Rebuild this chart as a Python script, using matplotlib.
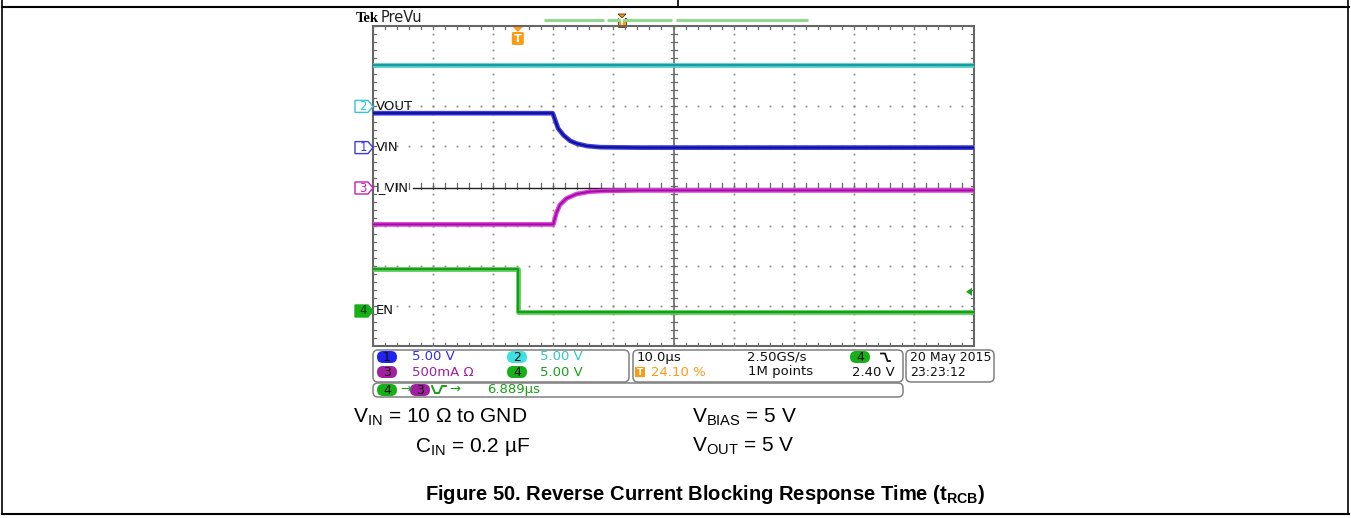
import numpy as np
import matplotlib
matplotlib.use("Agg")
import matplotlib.pyplot as plt
from matplotlib.patches import Polygon, FancyBboxPatch, Rectangle

plt.rcParams['mathtext.fontset'] = 'custom'
plt.rcParams['mathtext.rm'] = 'Liberation Sans'
plt.rcParams['mathtext.bf'] = 'Liberation Sans:bold'

W, H = 1351, 518

# scope settings
time_per_div = 10.0      # us/div
trig_pct = 24.10         # trigger position, % of screen
volts_per_div = 5.0      # ch1, ch2, ch4
ma_per_div = 500.0       # ch3
trig_level = 2.40        # V on ch4

# ground markers of each channel, in divisions from screen centre
ch_offset = {1: 0.96, 2: 1.99, 3: -0.05, 4: -3.125}

# channel 2 - VOUT
vout_t = [-24.1, 75.9]
vout_v = [5.2, 5.2]

# channel 1 - VIN
vin_t = [-24.1, 5.8, 6.2, 6.7, 7.6, 8.7, 9.8, 11.5, 13.7, 20.3, 75.9]
vin_v = [4.3, 4.3, 3.45, 2.4, 1.55, 0.85, 0.5, 0.2, 0.05, 0.0, 0.0]

# channel 3 - I_VIN (mA)
iin_t = [-24.1, 5.9, 6.4, 7.0, 8.1, 9.8, 12.0, 14.8, 20.0, 75.9]
iin_ma = [-455, -455, -315, -210, -130, -75, -45, -35, -30, -30]

# channel 4 - EN
en_t = [-24.1, 0.0, 0.0, 75.9]
en_v = [5.25, 5.25, -0.1, -0.1]

trig_div = trig_pct / 10.0


def tx(t):
    return np.asarray(t, dtype=float) / time_per_div + trig_div


def vy(v, ch, scale):
    return np.asarray(v, dtype=float) / scale + ch_offset[ch]


fig = plt.figure(figsize=(W / 100, H / 100), dpi=100)

# page axes in pixel units
pg = fig.add_axes([0, 0, 1, 1])
pg.set_xlim(0, W)
pg.set_ylim(H, 0)
pg.axis('off')

# screen axes in divisions
L, R, T, B = 373, 974, 26, 346
ax = fig.add_axes([L / W, 1 - B / H, (R - L) / W, (B - T) / H])
ax.set_xlim(0, 10)
ax.set_ylim(-4, 4)
ax.axis('off')
ax.patch.set_alpha(0)
px_x = (R - L) / 10.0
px_y = (B - T) / 8.0

# document frame
pg.plot([2, 1349], [7, 7], color='black', lw=1.5)
pg.plot([2, 1349], [514, 514], color='black', lw=1.5)
pg.plot([2, 2], [0, 514], color='black', lw=1.2)
pg.plot([1348, 1348], [0, 514], color='black', lw=1.2)
pg.plot([678, 678], [0, 7], color='black', lw=1.2)

# graticule
grid_c = '#8a8a8a'
steps_x = np.arange(0, 10.001, 0.2)
steps_y = np.arange(-4, 4.001, 0.2)
for k in range(1, 10):
    if k == 5:
        continue
    ax.plot(np.full_like(steps_y, k), steps_y, ls='none', marker='s', ms=1.3,
            mec='none', mfc=grid_c)
for j in range(-3, 4):
    if j == 0:
        continue
    ax.plot(steps_x, np.full_like(steps_x, j), ls='none', marker='s', ms=1.3,
            mec='none', mfc=grid_c)

# centre crosshair with minor ticks
ax.plot([5, 5], [-4, 4], color='#6a6a6a', lw=1.2)
for yy in steps_y:
    ax.plot([5 - 3 / px_x, 5 + 3 / px_x], [yy, yy], color='#6a6a6a', lw=0.9)
for xx in steps_x:
    ax.plot([xx, xx], [-3 / px_y, 3 / px_y], color='#6a6a6a', lw=0.9)

# border with ticks
ax.add_patch(Rectangle((0, -4), 10, 8, fill=False, ec='#666666', lw=1.5, clip_on=False))
for xx in steps_x:
    ax.plot([xx, xx], [4, 4 - 3 / px_y], color='#6a6a6a', lw=0.9)
    ax.plot([xx, xx], [-4, -4 + 3 / px_y], color='#6a6a6a', lw=0.9)
for yy in steps_y:
    ax.plot([10, 10 - 3 / px_x], [yy, yy], color='#6a6a6a', lw=0.9)
    ax.plot([0, 3 / px_x], [yy, yy], color='#6a6a6a', lw=0.9)

# ch3 reference line
ax.plot([40 / px_x, 10], [ch_offset[3]] * 2, color='#222222', lw=1.0)

# traces: light band under a darker core
traces = [
    (tx(vout_t), vy(vout_v, 2, volts_per_div), '#52c8c8', '#139c9c'),
    (tx(vin_t), vy(vin_v, 1, volts_per_div), '#3c3ce0', '#0e0e98'),
    (tx(iin_t), vy(iin_ma, 3, ma_per_div), '#e040e0', '#a010a0'),
    (tx(en_t), vy(en_v, 4, volts_per_div), '#50cc50', '#1a9a1a'),
]
for xs, ys, light, dark in traces:
    ax.plot(xs, ys, color=light, lw=3.4, solid_joinstyle='round')
    ax.plot(xs, ys, color=dark, lw=1.4, solid_joinstyle='round')

# channel markers on the left edge
markers = [
    (2, 'VOUT', '#2ec8d8', False),
    (1, 'VIN', '#3a3ae8', False),
    (3, 'I_VIN', '#c020c0', False),
    (4, 'EN', '#18b018', True),
]
mw, mh = 17 / px_x, 6 / px_y
for ch, name, col, filled in markers:
    y0 = ch_offset[ch]
    pts = [(-mw - 1 / px_x, y0 + mh), (-5 / px_x, y0 + mh), (0, y0),
           (-5 / px_x, y0 - mh), (-mw - 1 / px_x, y0 - mh)]
    ax.add_patch(Polygon(pts, closed=True, fc=col if filled else 'white',
                         ec=col, lw=1.0, clip_on=False, zorder=5))
    ax.text(-10 / px_x, y0, str(ch), color='#0a3a0a' if filled else col,
            fontsize=8.5, ha='center', va='center', family='DejaVu Sans',
            clip_on=False, zorder=6)
    ax.text(3 / px_x, y0, name, color='#111111', fontsize=9.5,
            ha='left', va='center', family='DejaVu Sans', zorder=6)

# trigger level arrow (ch4) on the right edge
ty = ch_offset[4] + trig_level / volts_per_div
ax.add_patch(Polygon([(10 - 2 / px_x, ty + 4 / px_y), (10 - 2 / px_x, ty - 4 / px_y),
                      (10 - 8 / px_x, ty)], closed=True, fc='#18a018', ec='none'))

# trigger position marker on the top edge
orange = '#ff9a14'
tx0 = trig_div
ax.add_patch(Polygon([(tx0 - 5 / px_x, 4 - 1 / px_y), (tx0 + 5 / px_x, 4 - 1 / px_y),
                      (tx0, 4 - 6 / px_y)], closed=True, fc=orange, ec='none', zorder=6))
ax.add_patch(FancyBboxPatch((tx0 - 6 / px_x, 4 - 19 / px_y), 12 / px_x, 13 / px_y,
                            boxstyle='round,pad=0,rounding_size=0.03', fc=orange,
                            ec='none', zorder=6, clip_on=False))
ax.text(tx0, 4 - 12.5 / px_y, 'T', color='white', fontsize=8, fontweight='bold',
        ha='center', va='center', family='DejaVu Sans', zorder=7)

# header: Tek PreVu and record view bar
pg.text(356, 19, 'Tek', fontsize=10.5, fontweight='bold', family='Liberation Serif',
        ha='left', va='center', color='black')
pg.text(381, 18, 'PreVu', fontsize=10.5, family='DejaVu Sans', ha='left', va='center',
        color='#222222')
for x0, x1 in [(544, 604), (607, 672), (676, 808)]:
    pg.plot([x0, x1], [20, 20], color='#90d890', lw=2.2, solid_capstyle='butt')
pg.add_patch(Polygon([(618, 14), (626, 14), (622, 18)], closed=True, fc=orange, ec='#553300', lw=0.6))
pg.add_patch(Rectangle((618, 18), 8, 9, fc=orange, ec='#553300', lw=0.6))
pg.text(622, 22.5, 'T', color='white', fontsize=6, fontweight='bold', ha='center',
        va='center', family='DejaVu Sans')


# readout area
def box(x0, y0, x1, y1):
    pg.add_patch(FancyBboxPatch((x0, y0), x1 - x0, y1 - y0,
                                boxstyle='round,pad=0,rounding_size=5',
                                fc='white', ec='#808080', lw=1.1))


def pill(x, y, num, fc):
    pg.add_patch(FancyBboxPatch((x - 10, y - 6), 20, 12,
                                boxstyle='round,pad=0,rounding_size=6',
                                fc=fc, ec='none'))
    pg.text(x, y + 0.5, num, fontsize=9, ha='center', va='center',
            color='#101010', family='DejaVu Sans')


def rd(x, y, s, col='#111111', ha='left', size=9.5):
    pg.text(x, y, s, fontsize=size, ha=ha, va='center', color=col, family='DejaVu Sans')


blue_t, cyan_t, purp_t, green_t = '#3030e0', '#30c8c8', '#a020a0', '#18a018'
box(373, 350, 629, 382)
box(633, 350, 903, 382)
box(906, 350, 994, 382)
box(373, 383, 903, 397)

r1, r2, r3 = 357, 372, 390
pill(387, r1, '1', '#2222ee')
rd(412, r1, '5.00 V', blue_t)
pill(517, r1, '2', '#40e0e0')
rd(540, r1, '5.00 V', cyan_t)
pill(387, r2, '3', '#a020a0')
rd(412, r2, '500mA Ω', purp_t)
pill(517, r2, '4', '#18b018')
rd(540, r2, '5.00 V', green_t)

rd(637, r1, '10.0µs')
rd(747, r1, '2.50GS/s')
pill(860, r1, '4', '#18b018')
pg.plot([881, 885, 887.5, 890], [353.5, 353.5, 361, 361], color='#111111', lw=1.3)
pg.add_patch(Rectangle((635, 367), 10, 10, fc=orange, ec='none'))
pg.text(640, 372.5, 'T', fontsize=6.5, fontweight='bold', color='white', ha='center',
        va='center', family='DejaVu Sans')
rd(651, r2, '24.10 %', orange)
rd(748, r2, '1M points')
rd(895, r2, '2.40 V', ha='right')

rd(910, r1, '20 May 2015', size=9)
rd(910, r2, '23:23:12', size=9)

pill(387, r3, '4', '#18b018')
rd(400, r3 - 0.5, '→', green_t)
pill(420, r3, '3', '#a020a0')
pg.plot([432, 435, 439, 442, 446], [386, 393, 393, 386, 386], color=green_t, lw=1.4)
rd(449, r3 - 0.5, '→', green_t)
rd(487, r3, '6.889µs', green_t)

# test conditions and caption
cap = dict(fontsize=15, family='Liberation Sans', va='baseline', ha='left', color='black')
pg.text(353, 423, r'$\mathregular{V_{IN}}$ = 10 Ω to GND', **cap)
pg.text(415, 452, r'$\mathregular{C_{IN}}$ = 0.2 µF', **cap)
pg.text(692, 423, r'$\mathregular{V_{BIAS}}$ = 5 V', **cap)
pg.text(692, 452, r'$\mathregular{V_{OUT}}$ = 5 V', **cap)
pg.text(705, 500, r'Figure 50. Reverse Current Blocking Response Time ($\mathbf{t_{RCB}}$)',
        fontsize=14.5, fontweight='bold', family='Liberation Sans', ha='center',
        va='baseline', color='black')

fig.savefig('out.png', dpi=100)
